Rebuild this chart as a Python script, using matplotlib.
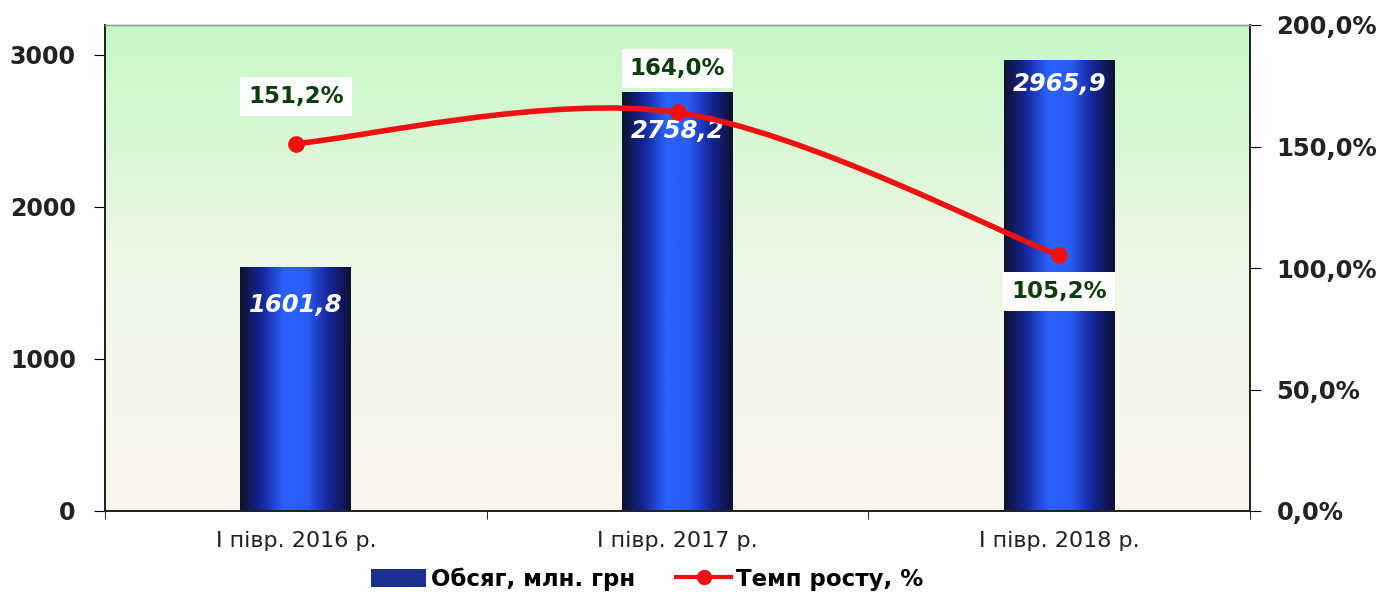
import numpy as np
import matplotlib
matplotlib.use("Agg")
import matplotlib.pyplot as plt
from matplotlib.colors import LinearSegmentedColormap
from matplotlib.path import Path
from matplotlib.patches import PathPatch, Patch
from matplotlib.lines import Line2D

plt.rcParams['font.family'] = ['DejaVu Sans']

categories = ["І півр. 2016 р.", "І півр. 2017 р.", "І півр. 2018 р."]
volume = [1601.8, 2758.2, 2965.9]
growth = [151.2, 164.0, 105.2]
volume_labels = ["1601,8", "2758,2", "2965,9"]
growth_labels = ["151,2%", "164,0%", "105,2%"]
left_ticks = [0, 1000, 2000, 3000]
right_ticks = [0, 50, 100, 150, 200]
right_tick_labels = ["0,0%", "50,0%", "100,0%", "150,0%", "200,0%"]
legend_labels = ["Обсяг, млн. грн", "Темп росту, %"]

fig = plt.figure(figsize=(13.95, 5.99), dpi=100)
ax = fig.add_axes([105/1395, 88/599, 1145/1395, 486/599])
ax2 = ax.twinx()

# background gradient
bg_cmap = LinearSegmentedColormap.from_list("bg", ["#fbf6ee", "#eef8e6", "#c6f7c6"])
grad = np.linspace(0, 1, 256).reshape(-1, 1)
ax.imshow(grad, cmap=bg_cmap, aspect='auto', extent=(0, 1, 0, 1),
          transform=ax.transAxes, origin='lower', zorder=0)

x = np.arange(len(categories))
width = 0.29
bars = ax.bar(x, volume, width=width, color='none', edgecolor='none', zorder=2)
bar_cmap = LinearSegmentedColormap.from_list(
    "bar", ["#0e1230", "#16279a", "#2a62ff", "#2a5cf5", "#16259a", "#0c1030"])
hgrad = np.linspace(0, 1, 256).reshape(1, -1)
for rect in bars:
    x0 = rect.get_x()
    im = ax.imshow(hgrad, cmap=bar_cmap, aspect='auto',
                   extent=(x0, x0 + rect.get_width(), 0, rect.get_height()),
                   zorder=2)
    im.set_clip_path(rect)

offsets = [-27, -28, -17]
for xi, v, lab, off in zip(x, volume, volume_labels, offsets):
    ax.annotate(lab, (xi, v), xytext=(0, off), textcoords='offset points',
                ha='center', va='center', color='white', fontsize=17.5,
                fontweight='bold', fontstyle='italic', zorder=4)

ax.set_xlim(-0.5, 2.5)
ax.set_ylim(0, 3197)
ax.set_yticks(left_ticks)
ax.set_yticklabels([str(t) for t in left_ticks], fontsize=17, fontweight='bold', color='#222222')
ax.set_xticks(x)
ax.set_xticklabels(categories, fontsize=16, color='#222222')
ax.set_xticks([-0.5, 0.5, 1.5, 2.5], minor=True)
ax.tick_params(axis='x', which='major', length=0, pad=14)
ax.tick_params(axis='x', which='minor', length=6, direction='out')
ax.tick_params(axis='y', length=8, direction='out', pad=13)

# smoothed line (Bezier through data points)
px = np.array(x, dtype=float)
py = np.array(growth, dtype=float)
verts = [(px[0], py[0])]
codes = [Path.MOVETO]
n = len(px)
for i in range(n - 1):
    p0 = np.array([px[i - 1], py[i - 1]]) if i > 0 else np.array([px[i], py[i]])
    p1 = np.array([px[i], py[i]])
    p2 = np.array([px[i + 1], py[i + 1]])
    p3 = np.array([px[i + 2], py[i + 2]]) if i + 2 < n else p2
    c1 = p1 + (p2 - p0) / 6.0
    c2 = p2 - (p3 - p1) / 6.0
    verts += [tuple(c1), tuple(c2), tuple(p2)]
    codes += [Path.CURVE4] * 3
ax2.add_patch(PathPatch(Path(verts, codes), facecolor='none', edgecolor='#ee1111',
                        lw=4, zorder=3, capstyle='round'))
ax2.plot(px, py, linestyle='none', marker='o', color='#ee1111', markersize=11, zorder=4)

g_offsets = [(0, 34), (0, 32), (0, -26)]
for xi, v, lab, off in zip(px, growth, growth_labels, g_offsets):
    ax2.annotate(lab, (xi, v), xytext=off, textcoords='offset points',
                 ha='center', va='center', color='#0b3d0b', fontsize=16.5,
                 fontweight='bold', zorder=5,
                 bbox=dict(boxstyle='square,pad=0.35', facecolor='white', edgecolor='none'))

ax2.set_ylim(0, 200)
ax2.set_yticks(right_ticks)
ax2.set_yticklabels(right_tick_labels, fontsize=17.5, fontweight='bold', color='#222222')
ax2.tick_params(axis='y', length=8, direction='out', pad=11)

for a in (ax, ax2):
    a.spines['top'].set_color('#9a9a9a')
    a.spines['top'].set_linewidth(1)
    for s in ('left', 'right', 'bottom'):
        a.spines[s].set_color('#222222')
        a.spines[s].set_linewidth(1.3)

handles = [Patch(facecolor='#1a2f90', edgecolor='none'),
           Line2D([0], [0], color='#ee1111', lw=3, marker='o', markersize=10)]
fig.legend(handles, legend_labels, loc='center', bbox_to_anchor=(647/1395, 20/599),
           ncol=2, frameon=False, prop={'weight': 'bold', 'size': 16.5},
           handlelength=2.4, handleheight=0.8, columnspacing=1.8, handletextpad=0.2)

fig.savefig("out.png", dpi=100)
